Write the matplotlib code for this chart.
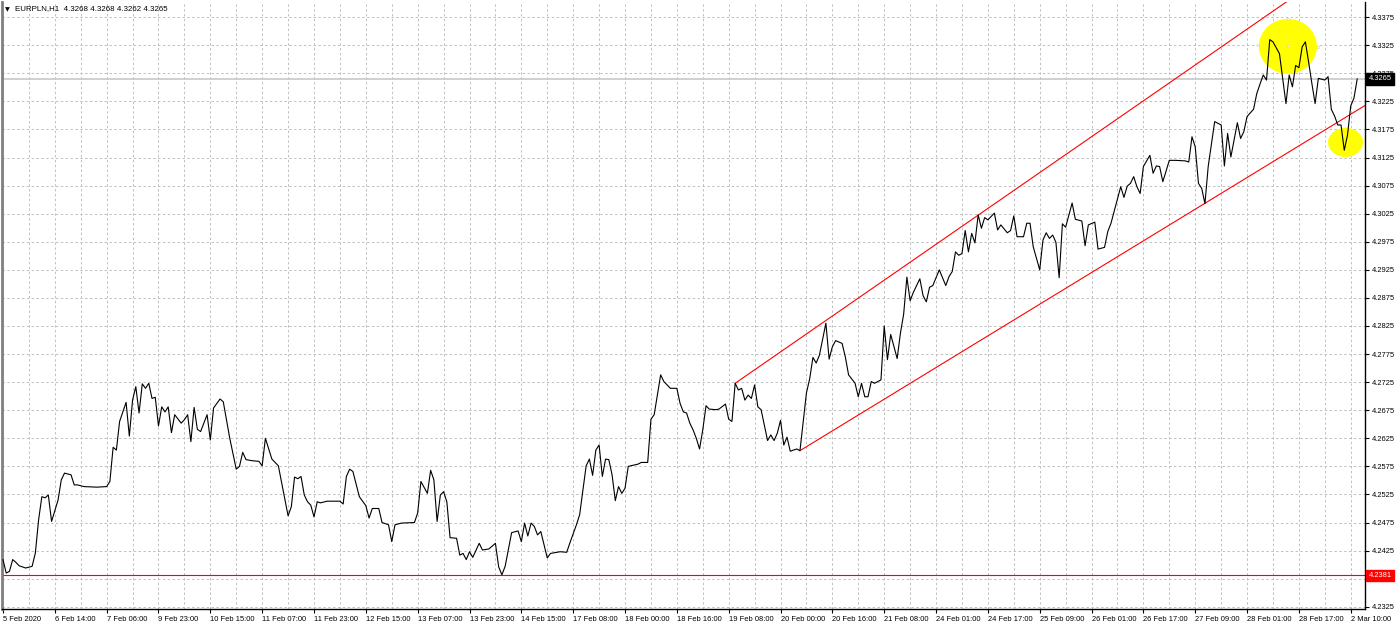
import numpy as np
import matplotlib.pyplot as plt
from matplotlib.patches import Ellipse
import matplotlib.transforms as mtransforms

plt.rcParams['font.family'] = ['Liberation Sans', 'DejaVu Sans']

# EURPLN H1 closes (bar index -> price)
bars = [0, 1, 2, 3, 4, 5, 7, 9, 10, 11, 12, 13, 14, 15, 17, 18, 19, 21, 22, 23,
        25, 29, 32, 33, 34, 35, 36, 38, 39, 40, 41, 42, 43, 44, 45, 46, 47, 48, 49, 50,
        51, 52, 53, 55, 56, 57, 58, 59, 60, 61, 63, 64, 65, 67, 68, 69, 70, 72, 73, 74,
        75, 77, 79, 80, 81, 83, 85, 88, 89, 90, 91, 92, 93, 94, 95, 96, 97, 98, 100, 104,
        105, 106, 107, 108, 110, 112, 113, 114, 116, 117, 119, 120, 121, 123, 127, 128, 129, 131, 132, 133,
        134, 135, 136, 137, 138, 140, 141, 142, 143, 144, 145, 147, 148, 150, 152, 153, 154, 155, 157, 159,
        160, 161, 162, 163, 164, 165, 166, 168, 169, 171, 172, 174, 175, 177, 178, 180, 181, 182, 183, 184,
        185, 186, 187, 188, 189, 190, 191, 192, 193, 196, 197, 199, 200, 201, 203, 204, 206, 208, 209, 210,
        211, 212, 213, 214, 215, 216, 217, 218, 220, 221, 223, 224, 225, 226, 227, 228, 229, 230, 231, 232,
        233, 234, 236, 237, 238, 239, 240, 241, 242, 243, 245, 246, 248, 249, 250, 251, 252, 254, 255, 256,
        257, 259, 260, 261, 263, 264, 265, 266, 267, 268, 269, 271, 272, 273, 274, 276, 277, 278, 279, 280,
        281, 283, 284, 285, 286, 287, 289, 291, 292, 293, 294, 295, 296, 297, 298, 299, 300, 301, 302, 303,
        304, 306, 307, 308, 310, 311, 312, 313, 315, 316, 317, 318, 320, 321, 322, 323, 324, 325, 326, 327,
        328, 330, 331, 333, 334, 335, 337, 338, 340, 341, 342, 345, 346, 347, 348, 349, 350, 351, 352, 354,
        355, 356, 357, 358, 360, 362, 365, 366, 367, 368, 369, 370, 371, 372, 374, 376, 377, 378, 379, 381,
        382, 383, 384, 386, 387, 388, 389, 390, 391, 392, 394, 395, 396, 397, 398, 399, 400, 401, 402, 403,
        404, 405, 406, 408, 409, 410, 411, 412, 413, 414, 415, 416, 417, 418]

close = [4.2409, 4.2385, 4.2388, 4.2409, 4.2404, 4.2398, 4.2394, 4.2397, 4.2421, 4.2480,
         4.2521, 4.2519, 4.2524, 4.2477, 4.2515, 4.2551, 4.2563, 4.2560, 4.2542, 4.2542,
         4.2539, 4.2538, 4.2539, 4.2548, 4.2609, 4.2604, 4.2655, 4.2689, 4.2629, 4.2693,
         4.2717, 4.2670, 4.2722, 4.2714, 4.2723, 4.2696, 4.2698, 4.2647, 4.2681, 4.2672,
         4.2681, 4.2635, 4.2667, 4.2652, 4.2658, 4.2667, 4.2619, 4.2680, 4.2641, 4.2637,
         4.2667, 4.2622, 4.2679, 4.2695, 4.2690, 4.2658, 4.2625, 4.2570, 4.2575, 4.2600,
         4.2587, 4.2585, 4.2584, 4.2576, 4.2625, 4.2588, 4.2576, 4.2487, 4.2503, 4.2556,
         4.2553, 4.2557, 4.2524, 4.2512, 4.2506, 4.2485, 4.2512, 4.2510, 4.2513, 4.2513,
         4.2508, 4.2557, 4.2570, 4.2566, 4.2521, 4.2505, 4.2483, 4.2500, 4.2500, 4.2475,
         4.2471, 4.2441, 4.2471, 4.2474, 4.2475, 4.2492, 4.2548, 4.2527, 4.2568, 4.2551,
         4.2477, 4.2524, 4.2530, 4.2512, 4.2448, 4.2447, 4.2417, 4.2420, 4.2409, 4.2423,
         4.2413, 4.2438, 4.2426, 4.2428, 4.2438, 4.2396, 4.2382, 4.2397, 4.2457, 4.2460,
         4.2441, 4.2474, 4.2451, 4.2474, 4.2468, 4.2453, 4.2459, 4.2412, 4.2420, 4.2422,
         4.2423, 4.2422, 4.2439, 4.2471, 4.2489, 4.2576, 4.2588, 4.2559, 4.2604, 4.2613,
         4.2557, 4.2588, 4.2587, 4.2560, 4.2514, 4.2539, 4.2527, 4.2536, 4.2575, 4.2579,
         4.2582, 4.2582, 4.2659, 4.2667, 4.2738, 4.2726, 4.2714, 4.2714, 4.2687, 4.2672,
         4.2670, 4.2652, 4.2640, 4.2625, 4.2606, 4.2640, 4.2683, 4.2677, 4.2676, 4.2677,
         4.2686, 4.2659, 4.2655, 4.2723, 4.2711, 4.2714, 4.2693, 4.2702, 4.2696, 4.2720,
         4.2681, 4.2676, 4.2621, 4.2631, 4.2621, 4.2634, 4.2657, 4.2613, 4.2627, 4.2602,
         4.2606, 4.2603, 4.2706, 4.2731, 4.2769, 4.2759, 4.2773, 4.2830, 4.2766, 4.2788,
         4.2799, 4.2794, 4.2770, 4.2738, 4.2723, 4.2699, 4.2723, 4.2699, 4.2699, 4.2726,
         4.2723, 4.2729, 4.2825, 4.2765, 4.2810, 4.2767, 4.2812, 4.2846, 4.2912, 4.2870,
         4.2885, 4.2909, 4.2879, 4.2868, 4.2894, 4.2897, 4.2925, 4.2897, 4.2913, 4.2922,
         4.2957, 4.2951, 4.2954, 4.2995, 4.2957, 4.2990, 4.2973, 4.3023, 4.2999, 4.3018,
         4.3014, 4.3026, 4.2996, 4.3005, 4.2991, 4.2995, 4.3021, 4.2984, 4.2984, 4.3008,
         4.3008, 4.2966, 4.2925, 4.2978, 4.2991, 4.2981, 4.2987, 4.2974, 4.2911, 4.3007,
         4.3001, 4.3044, 4.3015, 4.3012, 4.2968, 4.3005, 4.3010, 4.2962, 4.2965, 4.2993,
         4.3008, 4.3073, 4.3054, 4.3074, 4.3079, 4.3091, 4.3073, 4.3061, 4.3109, 4.3129,
         4.3097, 4.3110, 4.3109, 4.3082, 4.3120, 4.3120, 4.3119, 4.3117, 4.3162, 4.3144,
         4.3079, 4.3070, 4.3043, 4.3109, 4.3189, 4.3183, 4.3110, 4.3168, 4.3126, 4.3187,
         4.3159, 4.3171, 4.3198, 4.3211, 4.3239, 4.3256, 4.3272, 4.3263, 4.3335, 4.3331,
         4.3310, 4.3266, 4.3221, 4.3272, 4.3251, 4.3289, 4.3285, 4.3322, 4.3331, 4.3295,
         4.3257, 4.3221, 4.3266, 4.3263, 4.3269, 4.3211, 4.3199, 4.3183, 4.3183, 4.3138,
         4.3165, 4.3217, 4.3231, 4.3265]

time_labels = ["5 Feb 2020", "6 Feb 14:00", "7 Feb 06:00", "9 Feb 23:00", "10 Feb 15:00",
               "11 Feb 07:00", "11 Feb 23:00", "12 Feb 15:00", "13 Feb 07:00", "13 Feb 23:00",
               "14 Feb 15:00", "17 Feb 08:00", "18 Feb 00:00", "18 Feb 16:00", "19 Feb 08:00",
               "20 Feb 00:00", "20 Feb 16:00", "21 Feb 08:00", "24 Feb 01:00", "24 Feb 17:00",
               "25 Feb 09:00", "26 Feb 01:00", "26 Feb 17:00", "27 Feb 09:00", "28 Feb 01:00",
               "28 Feb 17:00", "2 Mar 10:00"]
bars_per_label = 16

price_ticks = [4.2325, 4.2375, 4.2425, 4.2475, 4.2525, 4.2575, 4.2625, 4.2675, 4.2725,
               4.2775, 4.2825, 4.2875, 4.2925, 4.2975, 4.3025, 4.3075, 4.3125, 4.3175,
               4.3225, 4.3275, 4.3325, 4.3375]

# trendline anchors (bar, price)
upper_trend = ([226, 348], [4.2723, 4.3210])
lower_trend = ([246, 368], [4.2603, 4.3033])
low_level = 4.2381
last_price = 4.3265
header = "EURPLN,H1  4.3268 4.3268 4.3262 4.3265"

# highlighted areas: (center bar, center price, width bars, height price)
big_mark = (396.6, 4.3323, 17.9, 0.0098)
small_mark = (414.4, 4.3152, 10.8, 0.0052)
mark_handles = ([387.3, 405.9, 396.6, 396.6], [4.3325, 4.3322, 4.3372, 4.3323])

xlim = (-0.3, 420.4)
ylim = (4.2321, 4.3402)
fs = 5.4

fig = plt.figure(figsize=(14, 6.26), dpi=100)
ax = fig.add_axes([2 / 1400, 17 / 626, 1363 / 1400, 607 / 626])
ax.set_xlim(*xlim)
ax.set_ylim(*ylim)

grid_col = '#c0c0c0'
for b in range(0, 421, 8):
    ax.axvline(b, color=grid_col, lw=0.7, ls=(0, (2.5, 2.5)), zorder=0)
for p in price_ticks:
    ax.axhline(p, color=grid_col, lw=0.7, ls=(0, (2.5, 2.5)), zorder=0)

# horizontal levels
ax.axhline(low_level, color='red', lw=0.8, zorder=2)
ax.axhline(last_price, color='#c8c8c8', lw=1.2, zorder=1)

# highlight ellipses
for cx, cy, w, h in [big_mark, small_mark]:
    ax.add_patch(Ellipse((cx, cy), w, h, facecolor='#ffff00', edgecolor='none', zorder=1.5))
ax.plot(mark_handles[0], mark_handles[1], 's', ms=1.6, mfc='white', mec='#d0d0a0', mew=0.4, zorder=1.6)

# trendlines as rays to the right
for xs, ys in [upper_trend, lower_trend]:
    slope = (ys[1] - ys[0]) / (xs[1] - xs[0])
    x_end = xlim[1] + 5
    ax.plot([xs[0], x_end], [ys[0], ys[0] + slope * (x_end - xs[0])],
            color='red', lw=0.8, zorder=2, clip_on=True)

ax.plot(bars, close, color='black', lw=0.8, zorder=3)

# axes styling
ax.spines['top'].set_visible(False)
ax.spines['left'].set_color('#808080')
ax.spines['left'].set_linewidth(2)
ax.spines['right'].set_linewidth(1)
ax.spines['bottom'].set_linewidth(1)

ax.yaxis.tick_right()
ax.set_yticks(price_ticks)
ax.set_yticklabels([f"{p:.4f}" for p in price_ticks])
ax.tick_params(axis='y', direction='out', length=3, width=0.8, pad=2, labelsize=fs)

ax.set_xticks([i * bars_per_label for i in range(len(time_labels))])
ax.set_xticklabels(time_labels, ha='left')
ax.tick_params(axis='x', direction='out', length=3, width=0.8, pad=2, labelsize=fs)

# price labels on the right scale
trans = mtransforms.blended_transform_factory(ax.transAxes, ax.transData)
ax.text(1.0025, last_price, f"{last_price:.4f}", transform=trans, color='white', fontsize=fs,
        va='center', ha='left', clip_on=False, zorder=10,
        bbox=dict(boxstyle='square,pad=0.3', facecolor='black', edgecolor='black'))
ax.text(1.0025, low_level, f"{low_level:.4f}", transform=trans, color='white', fontsize=fs,
        va='center', ha='left', clip_on=False, zorder=10,
        bbox=dict(boxstyle='square,pad=0.3', facecolor='red', edgecolor='red'))

# header
ax.text(0.0025, 0.992, "\u25bc", transform=ax.transAxes, fontsize=4.5, va='top', ha='left',
        family=['DejaVu Sans'])
ax.text(0.0095, 0.995, header, transform=ax.transAxes, fontsize=fs + 0.3, va='top', ha='left')

plt.savefig("out.png", dpi=100)
